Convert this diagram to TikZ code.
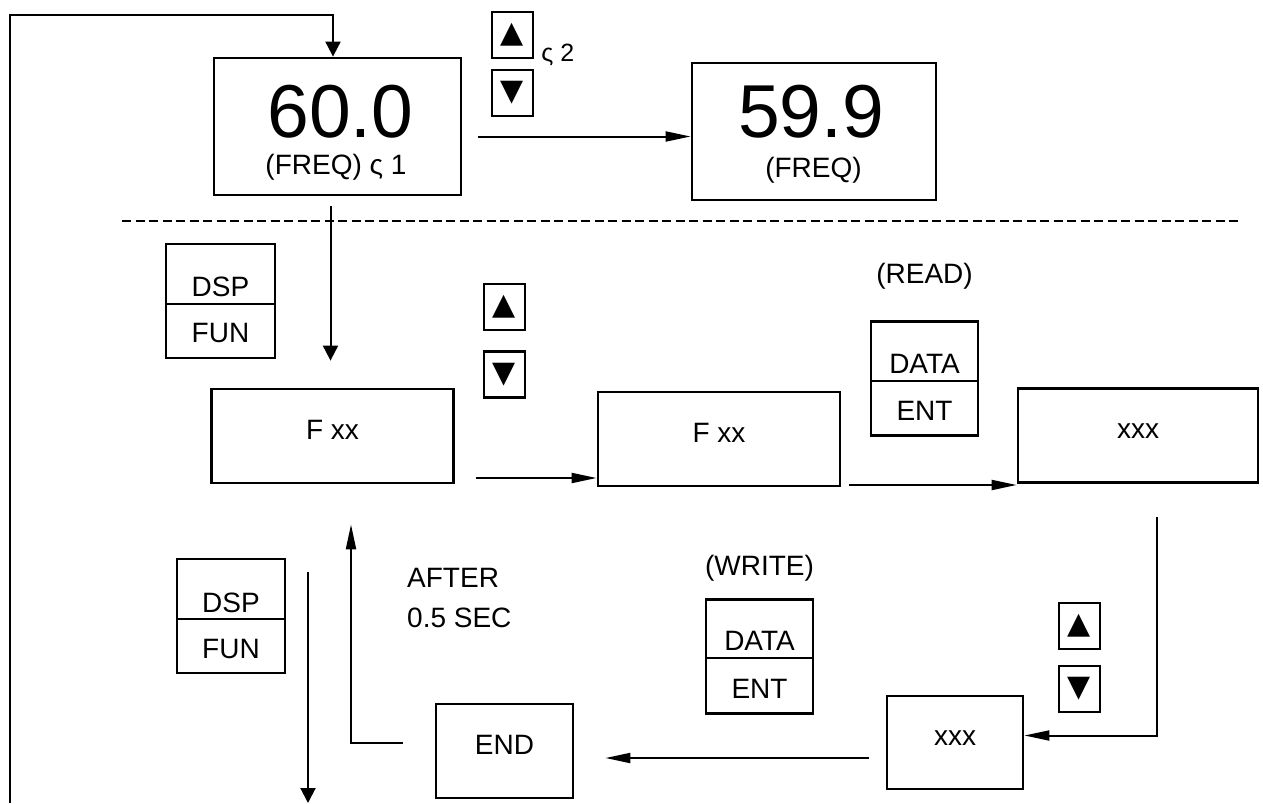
\documentclass[tikz,border=0pt]{standalone}
\usepackage{fontspec}
\setmainfont{Liberation Sans}
\newfontfamily\keysymfont{DejaVu Sans}
\usetikzlibrary{positioning, arrows.meta}

\begin{document}
\begin{tikzpicture}[
        x=1pt, y=-1pt,
        font=\fontsize{28}{40}\selectfont,
        display/.style={
            rectangle,
            draw,
            line width=2.8pt,
            minimum width=242pt,
            minimum height=94pt,
            inner sep=0pt,
            text height=20pt,
            text depth=14pt
        },
        keypad/.style={
            rectangle,
            draw,
            line width=2.5pt,
            minimum width=107pt,
            minimum height=114pt,
            inner sep=0pt
        },
        arrowkey/.style={
            rectangle,
            draw,
            line width=2.4pt,
            minimum width=41pt,
            minimum height=46pt,
            inner sep=0pt,
            font=\keysymfont\fontsize{30}{30}\selectfont
        },
        keytext/.style={anchor=base, inner sep=0pt},
        lcd/.style={anchor=base, inner sep=0pt, font=\fontsize{75}{75}\selectfont},
        wire/.style={line width=2pt},
        shortarrow/.style={-{Triangle[length=15pt, width=15pt]}, line width=2pt},
        longarrow/.style={-{Triangle[length=25pt, width=10pt]}, line width=2pt}
    ]
    \useasboundingbox (0,0) rectangle (1263,803);

    % Fila superior
    \node[display, minimum width=247pt, minimum height=137pt] (disp60) at (337.5,126.5) {};
    \node[lcd] (val60) at ([xshift=3pt, yshift=-10.5pt]disp60.center) {60.0};
    \node[keytext] (freq60) at ([xshift=-1.5pt, yshift=-47.5pt]disp60.center) {(FREQ) ς 1};
    \node[arrowkey] (upA) at (512.5,35) {▲};
    \node[arrowkey] (downA) at (512.5,93) {▼};
    \node[anchor=base west, inner sep=0pt, font=\fontsize{25}{25}\selectfont] (note2) at ([xshift=7pt, yshift=-2pt]upA.south east) {ς 2};
    \node[display, minimum width=244pt, minimum height=137pt] (disp59) at (814,131.5) {};
    \node[lcd] (val59) at ([xshift=-3pt, yshift=-5.5pt]disp59.center) {59.9};
    \node[keytext] (freq59) at ([xshift=-0.5pt, yshift=-45.5pt]disp59.center) {(FREQ)};

    % Separador
    \coordinate (dashL) at (122,221);
    \coordinate (dashR) at (1240,221);
    \draw[wire, dash pattern=on 9pt off 4.5pt] (dashL) -- (dashR);

    % Fila central
    \node[keypad, minimum width=109pt] (dspA) at (220.5,301) {};
    \draw[wire] ([yshift=-3pt]dspA.west) -- ([yshift=-3pt]dspA.east);
    \node[keytext] at ([yshift=5pt]dspA.center) {DSP};
    \node[keytext] at ([yshift=-41pt]dspA.center) {FUN};
    \node[arrowkey] (upB) at (504.5,307) {▲};
    \node[arrowkey] (downB) at (504.5,374.5) {▼};
    \node[display] (fxxA) at (332.5,436) {F xx};
    \node[display] (fxxB) at (719,439) {F xx};
    \node[keypad] (dataA) at (924.5,378.5) {};
    \draw[wire] ([yshift=-2.5pt]dataA.west) -- ([yshift=-2.5pt]dataA.east);
    \node[keytext] at ([yshift=5.5pt]dataA.center) {DATA};
    \node[keytext] at ([yshift=-41.5pt]dataA.center) {ENT};
    \node[above=31pt of dataA, inner sep=0pt] (readlbl) {(READ)};
    \node[display, minimum width=240pt] (xxxA) at (1138,435.5) {xxx};

    % Fila inferior
    \node[keypad, minimum width=108pt] (dspB) at (231,616) {};
    \draw[wire] ([yshift=-3pt]dspB.west) -- ([yshift=-3pt]dspB.east);
    \node[keytext] at ([yshift=4pt]dspB.center) {DSP};
    \node[keytext] at ([yshift=-42pt]dspB.center) {FUN};
    \node[anchor=north west, align=left, inner sep=0pt] (delay) at (407,568) {AFTER\\0.5 SEC};
    \node[display, minimum width=137pt] (endbox) at (504.5,751) {END};
    \node[keypad] (dataB) at (759.5,656.5) {};
    \draw[wire] ([yshift=-1.5pt]dataB.west) -- ([yshift=-1.5pt]dataB.east);
    \node[keytext] at ([yshift=6.5pt]dataB.center) {DATA};
    \node[keytext] at ([yshift=-41.5pt]dataB.center) {ENT};
    \node[above=17pt of dataB, inner sep=0pt] (writelbl) {(WRITE)};
    \node[arrowkey] (upC) at (1079.5,626) {▲};
    \node[arrowkey] (downC) at (1079.5,689) {▼};
    \node[display, minimum width=136pt, minimum height=93pt] (xxxB) at (955,742.5) {xxx};

    % Flechas
    \coordinate (loopbot) at (10,803);
    \coordinate (retTop) at (308,572);
    \coordinate (retBot) at (308,803);
    \draw[shortarrow] (loopbot) |- ([xshift=-4.5pt, yshift=42pt]disp60.north) -- ([xshift=-4.5pt]disp60.north);
    \draw[longarrow, shorten <=16pt] ([yshift=-10pt]disp60.east) -- ([yshift=-10pt]disp60.east -| disp59.west);
    \draw[shortarrow, shorten <=10pt, shorten >=27pt] ([xshift=-7pt]disp60.south) -- ([xshift=-7pt]disp60.south |- fxxA.north);
    \draw[longarrow, shorten <=21pt] ([yshift=-42pt]fxxA.east) -- ([yshift=-42pt]fxxA.east -| fxxB.west);
    \draw[longarrow, shorten <=8pt] ([yshift=-46pt]fxxB.east) -- ([yshift=-46pt]fxxB.east -| xxxA.west);
    \draw[longarrow, shorten <=33pt] ([xshift=19pt]xxxA.south) |- ([yshift=7pt]xxxB.east);
    \draw[longarrow, shorten <=17pt, shorten >=31pt] ([yshift=-15.5pt]xxxB.west) -- ([yshift=-15.5pt]xxxB.west -| endbox.east);
    \draw[longarrow, shorten <=32pt, shorten >=40pt] ([yshift=8pt]endbox.west) -| ([xshift=18.5pt]fxxA.south);
    \draw[shortarrow] (retTop) -- (retBot);

\end{tikzpicture}
\end{document}
